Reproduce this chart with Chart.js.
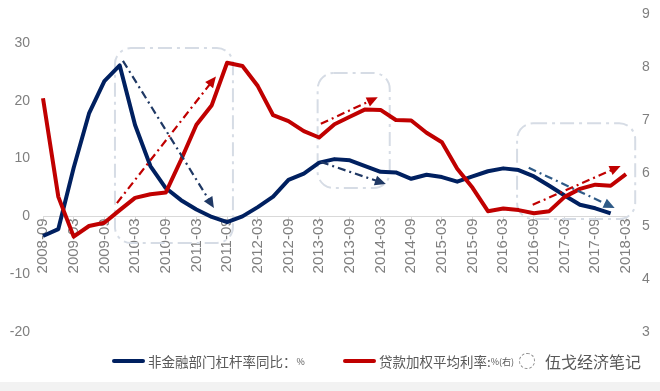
<!DOCTYPE html>
<html>
<head>
<meta charset="utf-8">
<script src="https://cdn.jsdelivr.net/npm/chart.js@4.4.1/dist/chart.umd.min.js"></script>
<style>
  html, body { margin: 0; padding: 0; background: #fff; }
  #wrap { position: relative; width: 660px; height: 391px; overflow: hidden; }
  #band { position: absolute; left: 0; top: 382px; width: 660px; height: 9px; background: #f2f2f2; }
  canvas { position: absolute; left: 0; top: 0; }
  .legend-item { position: absolute; top: 351px; height: 20px; display: flex; align-items: center;
                 font-family: "Noto Sans CJK SC", sans-serif; font-size: 13.5px; color: #595959; white-space: nowrap; }
  .swatch { width: 33px; height: 4.5px; border-radius: 3px; margin-right: 3px; }
  .unit { font-size: 9px; }
  #mark { position: absolute; left: 519px; top: 350px; height: 22px; display: flex; align-items: center;
          font-family: "Noto Sans CJK SC", sans-serif; font-size: 16px; color: #595959; }
  #mark .icon { width: 14px; height: 14px; border: 1px dashed #8c8c8c; border-radius: 50%; margin-right: 10px; }
</style>
</head>
<body>
<div id="wrap">
  <div id="band"></div>
  <canvas id="leverageChart" width="660" height="391"></canvas>
  <div id="mark"><span class="icon"></span>伍戈经济笔记</div>
</div>
<script>
// Quarterly points, labels shown every other quarter
const quarters = [
    '2008-09', '2008-12', '2009-03', '2009-06', '2009-09', '2009-12', '2010-03', '2010-06',
    '2010-09', '2010-12', '2011-03', '2011-06', '2011-09', '2011-12', '2012-03', '2012-06',
    '2012-09', '2012-12', '2013-03', '2013-06', '2013-09', '2013-12', '2014-03', '2014-06',
    '2014-09', '2014-12', '2015-03', '2015-06', '2015-09', '2015-12', '2016-03', '2016-06',
    '2016-09', '2016-12', '2017-03', '2017-06', '2017-09', '2017-12', '2018-03'
];

// 非金融部门杠杆率同比 (left axis, %)
const leverageYoY = [
    -3.4, -2.2, 8.4, 17.8, 23.4, 26.1, 15.8, 8.7, 4.9, 2.8, 1.2, -0.1, -1.0, 0.0, 1.6, 3.4,
    6.3, 7.4, 9.3, 9.9, 9.7, 8.7, 7.7, 7.6, 6.5, 7.2, 6.8, 6.0, 6.9, 7.8, 8.3, 8.0,
    6.9, 5.3, 3.6, 2.0, 1.4, 0.5, null
];

// 贷款加权平均利率 (right axis, %)
const loanRate = [
    7.41, 5.55, 4.80, 5.00, 5.06, 5.30, 5.53, 5.60, 5.63, 6.25, 6.91, 7.28, 8.08, 8.02, 7.64, 7.09,
    6.98, 6.79, 6.67, 6.92, 7.06, 7.20, 7.19, 7.00, 6.99, 6.76, 6.58, 6.08, 5.72, 5.28, 5.33, 5.30,
    5.24, 5.28, 5.55, 5.70, 5.78, 5.76, 5.98
];

const seriesNames = ['非金融部门杠杆率同比：', '贷款加权平均利率:'];
const seriesUnits = ['%', '%(右)'];
const seriesColors = ['#002060', '#c00000'];

// Axis ranges
const leftRange = [-20, 35];
const rightRange = [3, 9];

// Highlight boxes and trend arrows, in [category index, left-axis value]
const focusBoxes = [
    { from: [4.69, 29.1], to: [12.38, -4.6] },
    { from: [17.9, 24.8], to: [22.6, 4.9] },
    { from: [30.9, 16.1], to: [38.6, -0.45] }
];
const trendArrows = [
    { from: [5.21, 26.9], to: [11.14, 1.45], color: '#1f3864' },
    { from: [4.82, 2.3], to: [11.27, 24.2], color: '#c00000' },
    { from: [18.11, 16.0], to: [21.82, 20.6], color: '#c00000' },
    { from: [18.11, 9.4], to: [22.35, 5.6], color: '#1f3864' },
    { from: [31.66, 8.4], to: [37.26, 1.45], color: '#2e5a87' },
    { from: [31.92, 2.0], to: [37.65, 8.7], color: '#c00000' }
];

const annotationPlugin = {
    id: 'focusAnnotations',
    beforeDatasetsDraw(chart) {
        const { ctx, scales: { x, y } } = chart;
        ctx.save();
        ctx.strokeStyle = '#d6dce5';
        ctx.lineWidth = 2;
        ctx.setLineDash([14, 5, 3, 5]);
        focusBoxes.forEach(b => {
            const x0 = x.getPixelForValue(b.from[0]);
            const y0 = y.getPixelForValue(b.from[1]);
            const x1 = x.getPixelForValue(b.to[0]);
            const y1 = y.getPixelForValue(b.to[1]);
            ctx.beginPath();
            ctx.roundRect(x0, y0, x1 - x0, y1 - y0, 16);
            ctx.stroke();
        });
        ctx.restore();
    },
    afterDatasetsDraw(chart) {
        const { ctx, scales: { x, y } } = chart;
        const head = 10;
        trendArrows.forEach(a => {
            const x0 = x.getPixelForValue(a.from[0]);
            const y0 = y.getPixelForValue(a.from[1]);
            const x1 = x.getPixelForValue(a.to[0]);
            const y1 = y.getPixelForValue(a.to[1]);
            const ang = Math.atan2(y1 - y0, x1 - x0);
            ctx.save();
            ctx.strokeStyle = a.color;
            ctx.fillStyle = a.color;
            ctx.lineWidth = 2.2;
            ctx.setLineDash([8, 4, 2, 4]);
            ctx.beginPath();
            ctx.moveTo(x0, y0);
            ctx.lineTo(x1 - Math.cos(ang) * head, y1 - Math.sin(ang) * head);
            ctx.stroke();
            ctx.setLineDash([]);
            ctx.translate(x1, y1);
            ctx.rotate(ang);
            ctx.beginPath();
            ctx.moveTo(0, 0);
            ctx.lineTo(-head - 1, -5);
            ctx.lineTo(-head - 1, 5);
            ctx.closePath();
            ctx.fill();
            ctx.restore();
        });
    }
};

const tickFont = { family: '"Liberation Sans", Arial, sans-serif', size: 14 };

// hidden tick marks stand in for the label gap, so the chart area is not pushed down
const hiddenTicks = len => ({
    display: true,
    drawOnChartArea: false,
    drawTicks: true,
    tickLength: len,
    tickColor: 'rgba(0,0,0,0)'
});

const ctx = document.getElementById('leverageChart').getContext('2d');
const leverageChart = new Chart(ctx, {
    type: 'line',
    data: {
        labels: quarters,
        datasets: [
            {
                label: seriesNames[0] + seriesUnits[0],
                data: leverageYoY,
                yAxisID: 'y',
                borderColor: seriesColors[0],
                backgroundColor: seriesColors[0],
                borderWidth: 4,
                pointRadius: 0,
                tension: 0,
                borderJoinStyle: 'round',
                order: 1
            },
            {
                label: seriesNames[1] + seriesUnits[1],
                data: loanRate,
                yAxisID: 'y1',
                borderColor: seriesColors[1],
                backgroundColor: seriesColors[1],
                borderWidth: 4,
                pointRadius: 0,
                tension: 0,
                borderJoinStyle: 'round',
                order: 0
            }
        ]
    },
    options: {
        responsive: false,
        animation: false,
        devicePixelRatio: 1,
        layout: { padding: { top: 14, bottom: 59, left: 0, right: 0 } },
        plugins: {
            legend: { display: false },
            tooltip: { enabled: false }
        },
        scales: {
            x: {
                position: { y: 0 },
                grid: {
                    drawOnChartArea: false,
                    drawTicks: true,
                    tickLength: 5,
                    tickColor: c => (c.index % 2 === 0 ? '#d9d9d9' : 'rgba(0,0,0,0)')
                },
                border: { display: true, color: '#d9d9d9', width: 1 },
                ticks: {
                    autoSkip: false,
                    maxRotation: 90,
                    minRotation: 90,
                    padding: -3,
                    color: '#7f7f7f',
                    font: { family: tickFont.family, size: 15 },
                    callback: function(value, index) {
                        return index % 2 === 0 ? this.getLabelForValue(value) : '';
                    }
                }
            },
            y: {
                position: 'left',
                min: leftRange[0],
                max: leftRange[1],
                grid: hiddenTicks(13),
                border: { display: false },
                ticks: {
                    stepSize: 10,
                    padding: 0,
                    color: '#7f7f7f',
                    font: tickFont,
                    callback: v => (v % 10 === 0 ? v : '')
                },
                afterFit: scale => { scale.width = 43; }
            },
            y1: {
                position: 'right',
                min: rightRange[0],
                max: rightRange[1],
                grid: hiddenTicks(16),
                border: { display: false },
                ticks: {
                    stepSize: 1,
                    padding: 0,
                    color: '#7f7f7f',
                    font: tickFont
                },
                afterFit: scale => { scale.width = 34; }
            }
        }
    },
    plugins: [annotationPlugin]
});

// HTML legend built from the series arrays
const legendLeft = [112, 343];
seriesNames.forEach((name, i) => {
    const item = document.createElement('div');
    item.className = 'legend-item';
    item.style.left = legendLeft[i] + 'px';
    item.innerHTML = `<span class="swatch" style="background:${seriesColors[i]}"></span>` +
        `<span>${name}</span><span class="unit">${seriesUnits[i]}</span>`;
    document.getElementById('wrap').insertBefore(item, document.getElementById('mark'));
});
</script>
</body>
</html>
